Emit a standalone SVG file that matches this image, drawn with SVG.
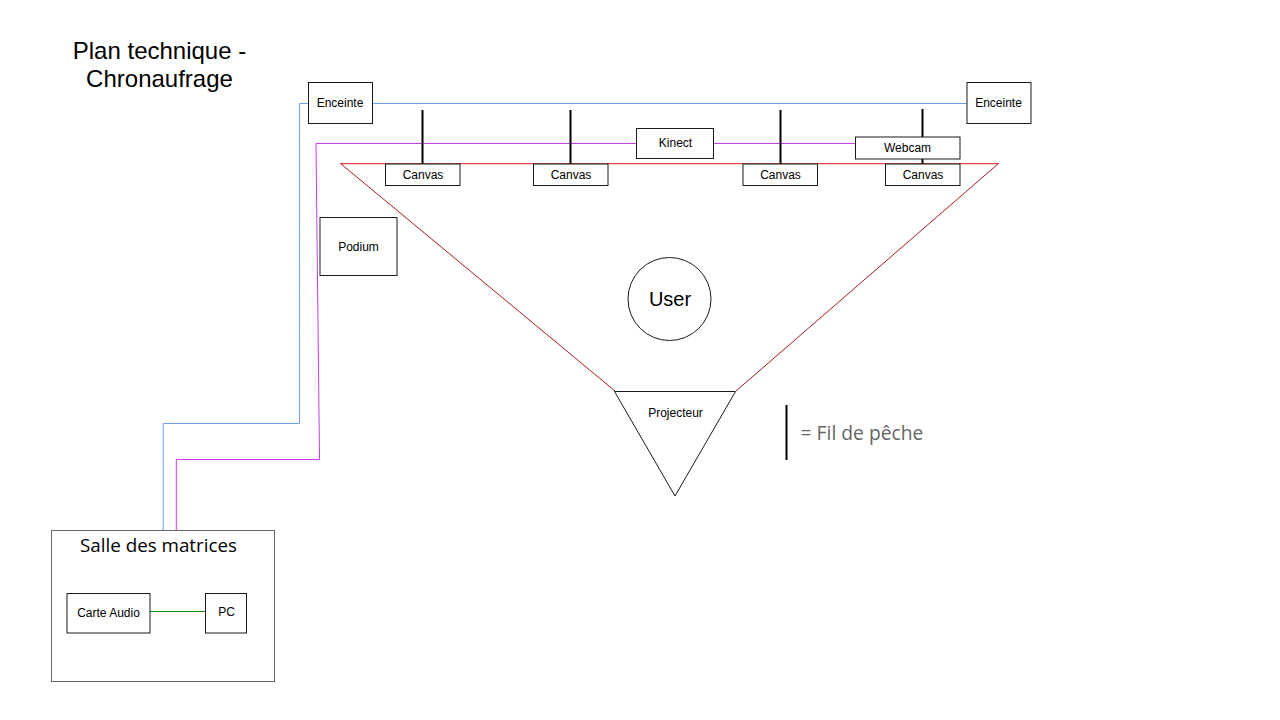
<svg xmlns="http://www.w3.org/2000/svg" width="1280" height="720" viewBox="0 0 1280 720">
<style>
.box{fill:#fff;stroke:#1a1a1a;stroke-width:1}
.soft{fill:#fff;stroke:#666;stroke-width:1}
.t{font-family:"Liberation Sans",Arial,sans-serif;font-size:12px;fill:#000;text-anchor:middle}
.big{font-family:"Liberation Sans",Arial,sans-serif;font-size:24px;fill:#000;text-anchor:middle}
.seg{font-family:"Open Sans","Noto Sans",sans-serif;text-anchor:middle}
.blue{fill:none;stroke:#6d9eeb;stroke-width:1}
.pur{fill:none;stroke:#c93ce6;stroke-width:1}
.red{fill:none;stroke:#a61c1c;stroke-width:1}
.fil{fill:none;stroke:#000;stroke-width:2}
</style>
<rect width="1280" height="720" fill="#fff"/>
<text class="big" x="159.500" y="59">Plan technique -</text>
<text class="big" x="159.500" y="87">Chronaufrage</text>
<g id="salle"><rect class="soft" x="51.500" y="530.500" width="223" height="151"/><text class="seg" style="font-size:18.800px" x="158.500" y="551.500" fill="#000">Salle des matrices</text></g>
<g id="connectors">
<path class="blue" d="M163.200 530V423.500H299.500V103.500H967"/>
<path class="pur" d="M176.300 530V459.500H319.500L316 143.500H856"/>
<path d="M150 611.500H205" fill="none" stroke="#0a8a0a"/>
<path class="red" d="M998.500 163.500L736 391M340.500 163.500L615 391"/>
<path d="M340.500 163.700H998.500" fill="none" stroke="#d81818"/>
<path class="fil" d="M422.500 110V164M570.500 110V164M780.500 110V164M922.500 109V137M922.500 158V164"/>
<path class="fil" d="M786.500 405V460"/>
</g>
<g id="enceinte-left"><rect class="box" x="308.500" y="82.500" width="64" height="41"/><text class="t" x="340" y="107">Enceinte</text></g>
<g id="enceinte-right"><rect class="box" x="967" y="82.500" width="64" height="41"/><text class="t" x="998.500" y="107">Enceinte</text></g>
<g id="kinect"><rect class="box" x="636.500" y="128.500" width="77" height="30"/><text class="t" x="675.500" y="147">Kinect</text></g>
<g id="webcam"><rect class="box" x="855.500" y="137" width="104.500" height="22"/><text class="t" x="907.500" y="152">Webcam</text></g>
<g id="canvas-1"><rect class="box" x="385.500" y="164" width="74.500" height="21.500"/><text class="t" x="423" y="179">Canvas</text></g>
<g id="canvas-2"><rect class="box" x="533.500" y="164" width="74.500" height="21.500"/><text class="t" x="571" y="179">Canvas</text></g>
<g id="canvas-3"><rect class="box" x="743" y="164" width="74.500" height="21.500"/><text class="t" x="780.500" y="179">Canvas</text></g>
<g id="canvas-4"><rect class="box" x="885.500" y="164" width="74.500" height="21.500"/><text class="t" x="923" y="179">Canvas</text></g>
<g id="podium"><rect class="box" x="320" y="217.500" width="77" height="58"/><text class="t" x="358.500" y="251">Podium</text></g>
<g id="user"><circle class="box" cx="669.500" cy="299" r="41.500"/><text class="t" style="font-size:20px" x="670" y="306">User</text></g>
<g id="projecteur"><path class="box" d="M614.500 391.500H735.500L675 496Z"/><text class="t" x="675.500" y="417">Projecteur</text></g>
<g id="legende"><text class="seg" style="font-size:19.300px" x="862" y="440" fill="#666">= Fil de pêche</text></g>
<g id="carte-audio"><rect class="box" x="67" y="593.500" width="83" height="39.500"/><text class="t" x="108.500" y="617">Carte Audio</text></g>
<g id="pc"><rect class="box" x="205.500" y="593.500" width="41" height="39.500"/><text class="t" x="226.500" y="616">PC</text></g>
</svg>
